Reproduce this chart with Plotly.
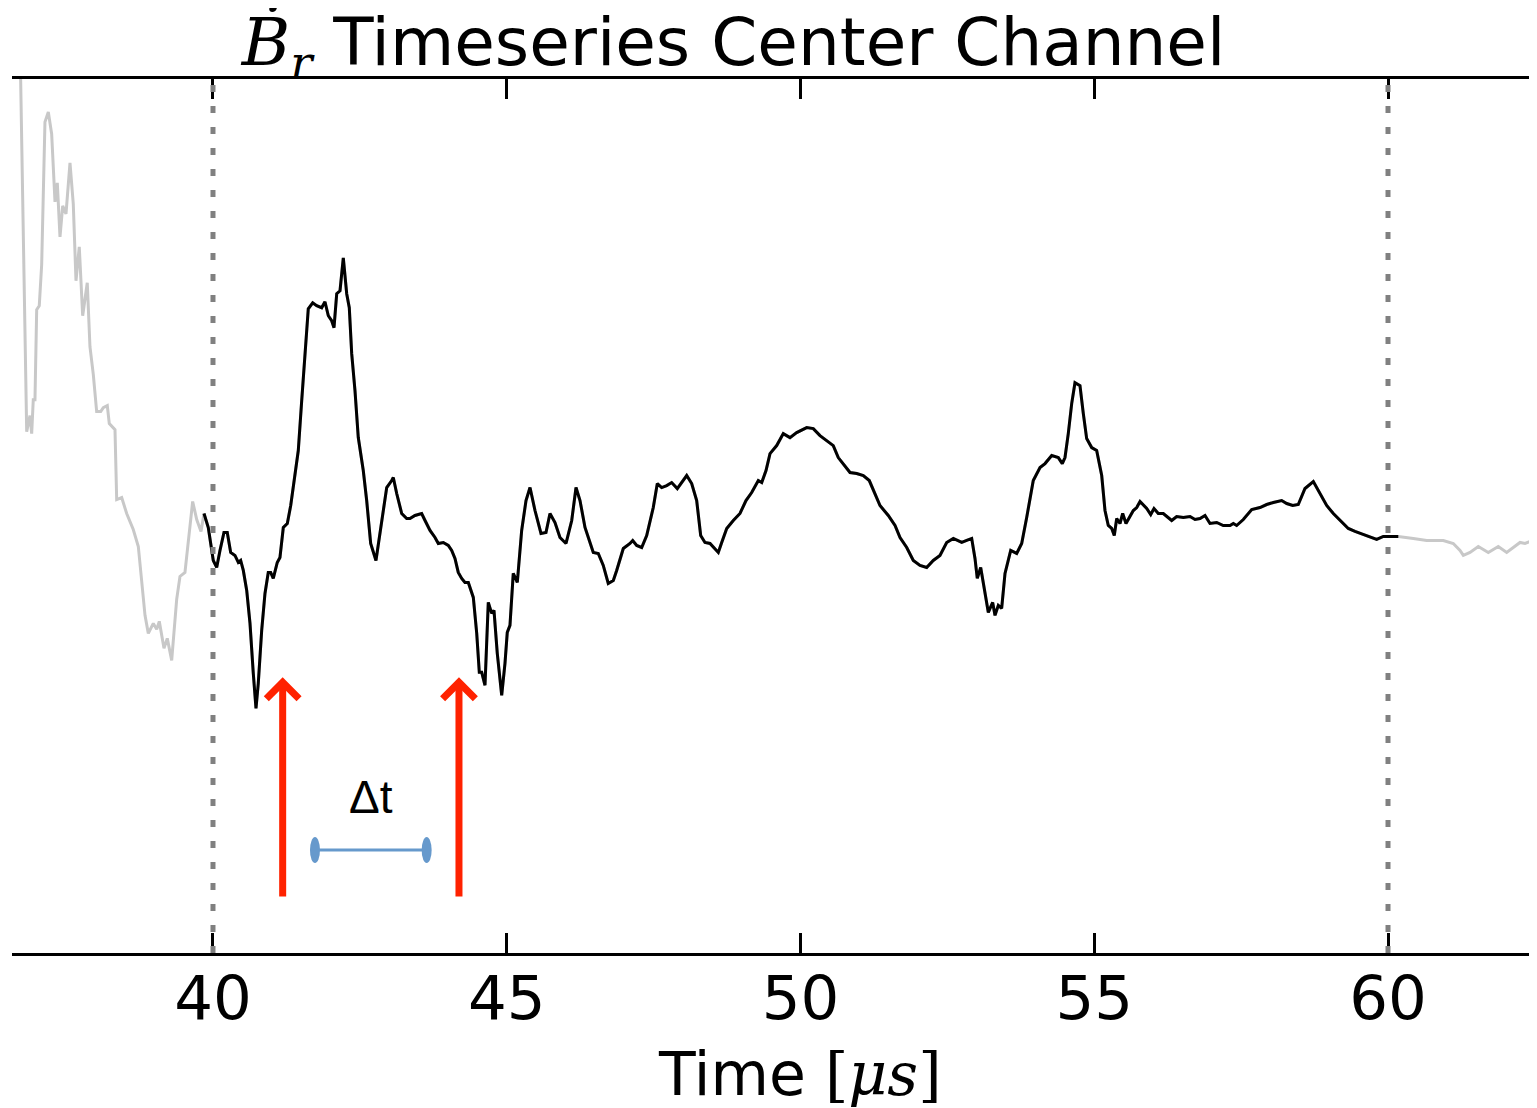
import plotly.graph_objects as go

# ---- data (time in microseconds, amplitude in arbitrary units) ----
left_tail_t = [36.715, 36.766, 36.829, 36.885, 36.914, 36.941, 36.970, 36.999, 37.043, 37.084,
               37.140, 37.197, 37.254, 37.311, 37.350, 37.396, 37.442, 37.498, 37.566, 37.622,
               37.668, 37.724, 37.782, 37.860, 37.906, 37.963, 38.020, 38.089, 38.133, 38.201,
               38.235, 38.332, 38.361, 38.446, 38.531, 38.643, 38.729, 38.843, 38.899, 38.984,
               39.042, 39.086, 39.166, 39.222, 39.297, 39.382, 39.438, 39.523, 39.580, 39.654,
               39.723, 39.796]
left_tail_a = [5.00, 3.40, 1.09, 1.25, 1.07, 1.41, 1.41, 2.31, 2.35, 2.76,
               4.19, 4.29, 4.07, 3.39, 3.58, 3.04, 3.35, 3.27, 3.78, 3.37,
               2.60, 2.94, 2.25, 2.58, 1.94, 1.66, 1.29, 1.29, 1.33, 1.35,
               1.17, 1.11, 0.41, 0.43, 0.27, 0.11, -0.06, -0.75, -0.93, -0.83,
               -0.89, -0.81, -1.08, -0.98, -1.20, -0.59, -0.36, -0.32, -0.02, 0.39,
               0.21, 0.09]

window_t = [39.847, 39.920, 40.005, 40.063, 40.119, 40.187, 40.243, 40.301, 40.374, 40.431,
            40.471, 40.516, 40.574, 40.630, 40.686, 40.732, 40.771, 40.829, 40.885, 40.941,
            40.982, 41.026, 41.094, 41.140, 41.197, 41.265, 41.323, 41.396, 41.452, 41.510,
            41.566, 41.622, 41.697, 41.765, 41.850, 41.906, 41.963, 42.020, 42.060, 42.106,
            42.162, 42.218, 42.276, 42.320, 42.361, 42.417, 42.473, 42.558, 42.616, 42.684,
            42.774, 42.843, 42.889, 42.957, 43.042, 43.069, 43.127, 43.212, 43.297, 43.353,
            43.438, 43.552, 43.609, 43.694, 43.779, 43.835, 43.920, 44.005, 44.063, 44.119,
            44.175, 44.233, 44.289, 44.346, 44.431, 44.489, 44.533, 44.574, 44.630, 44.686,
            44.744, 44.783, 44.839, 44.914, 44.970, 45.009, 45.055, 45.111, 45.180, 45.254,
            45.328, 45.396, 45.481, 45.583, 45.668, 45.736, 45.821, 45.906, 46.009, 46.106,
            46.179, 46.247, 46.332, 46.388, 46.473, 46.558, 46.643, 46.728, 46.814, 46.871,
            46.984, 47.098, 47.144, 47.212, 47.297, 47.382, 47.494, 47.563, 47.637, 47.723,
            47.807, 47.903, 47.978, 48.063, 48.148, 48.233, 48.301, 48.374, 48.460, 48.528,
            48.601, 48.659, 48.744, 48.856, 48.970, 49.072, 49.169, 49.282, 49.340, 49.413,
            49.481, 49.595, 49.707, 49.821, 49.935, 50.106, 50.218, 50.332, 50.446, 50.558,
            50.643, 50.757, 50.843, 50.957, 51.069, 51.171, 51.239, 51.353, 51.494, 51.609,
            51.694, 51.808, 51.920, 52.034, 52.148, 52.260, 52.374, 52.488, 52.601, 52.744,
            52.829, 52.914, 52.970, 53.009, 53.067, 53.140, 53.197, 53.271, 53.311, 53.367,
            53.424, 53.481, 53.578, 53.680, 53.765, 53.850, 53.962, 54.077, 54.162, 54.276,
            54.388, 54.456, 54.502, 54.558, 54.616, 54.672, 54.757, 54.814, 54.871, 54.956,
            55.041, 55.127, 55.183, 55.239, 55.297, 55.341, 55.382, 55.438, 55.484, 55.540,
            55.597, 55.665, 55.723, 55.779, 55.893, 55.961, 56.017, 56.090, 56.175, 56.260,
            56.318, 56.403, 56.516, 56.630, 56.715, 56.800, 56.885, 56.970, 57.084, 57.196,
            57.311, 57.367, 57.424, 57.537, 57.680, 57.821, 57.935, 58.048, 58.190, 58.276,
            58.378, 58.473, 58.587, 58.729, 58.814, 58.956, 59.069, 59.212, 59.324, 59.438,
            59.579, 59.723, 59.807, 59.920, 60.063, 60.175]
window_a = [0.27, 0.13, -0.20, -0.27, -0.10, 0.08, 0.08, -0.12, -0.15, -0.22,
            -0.20, -0.30, -0.50, -0.83, -1.33, -1.68, -1.43, -0.90, -0.53, -0.32,
            -0.32, -0.38, -0.22, -0.17, 0.13, 0.17, 0.35, 0.67, 0.90, 1.40,
            1.90, 2.32, 2.38, 2.35, 2.33, 2.39, 2.25, 2.20, 2.13, 2.47,
            2.50, 2.83, 2.47, 2.33, 1.87, 1.50, 1.03, 0.70, 0.40, -0.03,
            -0.20, 0.07, 0.27, 0.53, 0.60, 0.63, 0.47, 0.27, 0.22, 0.22,
            0.25, 0.27, 0.20, 0.10, 0.03, -0.03, -0.02, -0.05, -0.10, -0.18,
            -0.32, -0.38, -0.42, -0.42, -0.57, -0.93, -1.32, -1.32, -1.45, -0.62,
            -0.73, -0.70, -1.13, -1.55, -1.23, -0.92, -0.85, -0.33, -0.42, 0.10,
            0.40, 0.53, 0.30, 0.07, 0.08, 0.27, 0.18, 0.03, -0.03, 0.20,
            0.53, 0.40, 0.13, 0.03, -0.12, -0.13, -0.25, -0.43, -0.40, -0.30,
            -0.08, -0.03, 0.00, -0.05, -0.07, 0.05, 0.33, 0.57, 0.53, 0.55,
            0.58, 0.52, 0.58, 0.65, 0.57, 0.40, 0.05, -0.02, -0.03, -0.07,
            -0.12, -0.02, 0.12, 0.20, 0.27, 0.40, 0.48, 0.60, 0.58, 0.70,
            0.87, 0.95, 1.07, 1.03, 1.08, 1.13, 1.12, 1.05, 1.00, 0.95,
            0.83, 0.75, 0.68, 0.67, 0.65, 0.60, 0.50, 0.35, 0.25, 0.15,
            0.03, -0.07, -0.20, -0.25, -0.27, -0.20, -0.15, -0.02, 0.02, -0.02,
            0.00, 0.02, -0.18, -0.38, -0.27, -0.53, -0.72, -0.62, -0.75, -0.65,
            -0.68, -0.33, -0.10, -0.13, -0.03, 0.23, 0.60, 0.73, 0.77, 0.85,
            0.83, 0.77, 0.83, 1.07, 1.37, 1.58, 1.55, 1.27, 1.02, 0.93,
            0.90, 0.65, 0.30, 0.15, 0.12, 0.05, 0.22, 0.17, 0.27, 0.17,
            0.23, 0.30, 0.33, 0.39, 0.32, 0.26, 0.32, 0.27, 0.27, 0.23,
            0.20, 0.24, 0.23, 0.24, 0.21, 0.22, 0.25, 0.17, 0.18, 0.15,
            0.15, 0.17, 0.15, 0.21, 0.31, 0.33, 0.36, 0.38, 0.40, 0.37,
            0.35, 0.36, 0.52, 0.59, 0.50, 0.35, 0.27, 0.18, 0.12, 0.09,
            0.06, 0.03, 0.01, 0.04, 0.04, 0.04]

right_tail_t = [60.431, 60.659, 60.941, 61.111, 61.226, 61.282, 61.396, 61.537, 61.707, 61.877,
                62.020, 62.133, 62.247, 62.332, 62.417, 62.531]
right_tail_a = [0.02, 0.00, 0.00, -0.03, -0.10, -0.15, -0.12, -0.06, -0.12, -0.06,
                -0.12, -0.07, -0.02, -0.03, -0.01, 0.03]

window_bounds = [40, 60]
x_ticks = [40, 45, 50, 55, 60]
x_tick_labels = ["40", "45", "50", "55", "60"]
arrow_times = [41.186, 44.187]
arrow_tip_a = -1.37
arrow_tail_a = -3.58
dt_start, dt_end = 41.736, 43.637
dt_a = -3.10
dt_label_a = -2.57

x_range = [36.579, 62.536]
y_range = [-4.13, 4.62]

# ---- figure ----
fig = go.Figure()

full_t = left_tail_t + window_t + right_tail_t
full_a = left_tail_a + window_a + right_tail_a
fig.add_trace(go.Scatter(x=full_t, y=full_a, mode="lines",
                         line=dict(color="#c8c8c8", width=3), hoverinfo="skip",
                         showlegend=False))
fig.add_trace(go.Scatter(x=window_t, y=window_a, mode="lines",
                         line=dict(color="black", width=3), showlegend=False))

# dotted window boundaries
for xb in window_bounds:
    fig.add_shape(type="line", xref="x", yref="paper", x0=xb, x1=xb, y0=0, y1=1,
                  line=dict(color="#808080", width=5, dash="7px,14px"), layer="above")

# red arrows
for xa in arrow_times:
    fig.add_annotation(x=xa, y=arrow_tip_a, ax=xa, ay=arrow_tail_a,
                       xref="x", yref="y", axref="x", ayref="y",
                       showarrow=True, arrowhead=4, arrowsize=0.9, arrowwidth=7,
                       arrowcolor="#FF2200", text="")

# delta t bar
fig.add_trace(go.Scatter(x=[dt_start, dt_end], y=[dt_a, dt_a], mode="lines",
                         line=dict(color="#6699CC", width=3), showlegend=False))
for xe in [dt_start, dt_end]:
    fig.add_shape(type="circle", xref="x", yref="y", xsizemode="pixel", ysizemode="pixel",
                  xanchor=xe, yanchor=dt_a, x0=-5, x1=5, y0=-13, y1=13,
                  fillcolor="#6699CC", line=dict(width=0))
fig.add_annotation(x=(dt_start + dt_end) / 2, y=dt_label_a, xref="x", yref="y",
                   text="Δt", showarrow=False,
                   font=dict(family="Liberation Sans, Arial", size=46, color="black"))

# x-axis title (mathtext-like)
fig.add_annotation(x=0.5167, y=-0.139, xref="paper", yref="paper",
                   text="Time <span style='font-family:DejaVu Serif'>[<i>μs</i>]</span>",
                   showarrow=False, xanchor="center", yanchor="middle",
                   font=dict(family="DejaVu Sans", size=60, color="black"))

# the page body adds an 8px offset, so the figure is sized/margined to compensate
fig.update_layout(
    width=1529, height=1100,
    margin=dict(l=4, r=0, t=71, b=155),
    paper_bgcolor="white", plot_bgcolor="white",
    title=dict(text="<span style='font-family:DejaVu Serif'><i>Ḃ</i><sub><i>r</i></sub></span> Timeseries Center Channel",
               x=0.4745, xanchor="center", y=0.969, yanchor="middle",
               font=dict(family="DejaVu Sans", size=66, color="black")),
    xaxis=dict(range=x_range, tickvals=x_ticks, ticktext=x_tick_labels,
               showgrid=False, zeroline=False, showline=True, linecolor="black",
               linewidth=3, mirror="ticks", ticks="inside", ticklen=20, tickwidth=3,
               tickcolor="black", tickfont=dict(family="DejaVu Sans", size=61, color="black"),
               ticklabelstandoff=-10),
    yaxis=dict(range=y_range, visible=False, showgrid=False, zeroline=False),
)

fig.write_html("out.html")
